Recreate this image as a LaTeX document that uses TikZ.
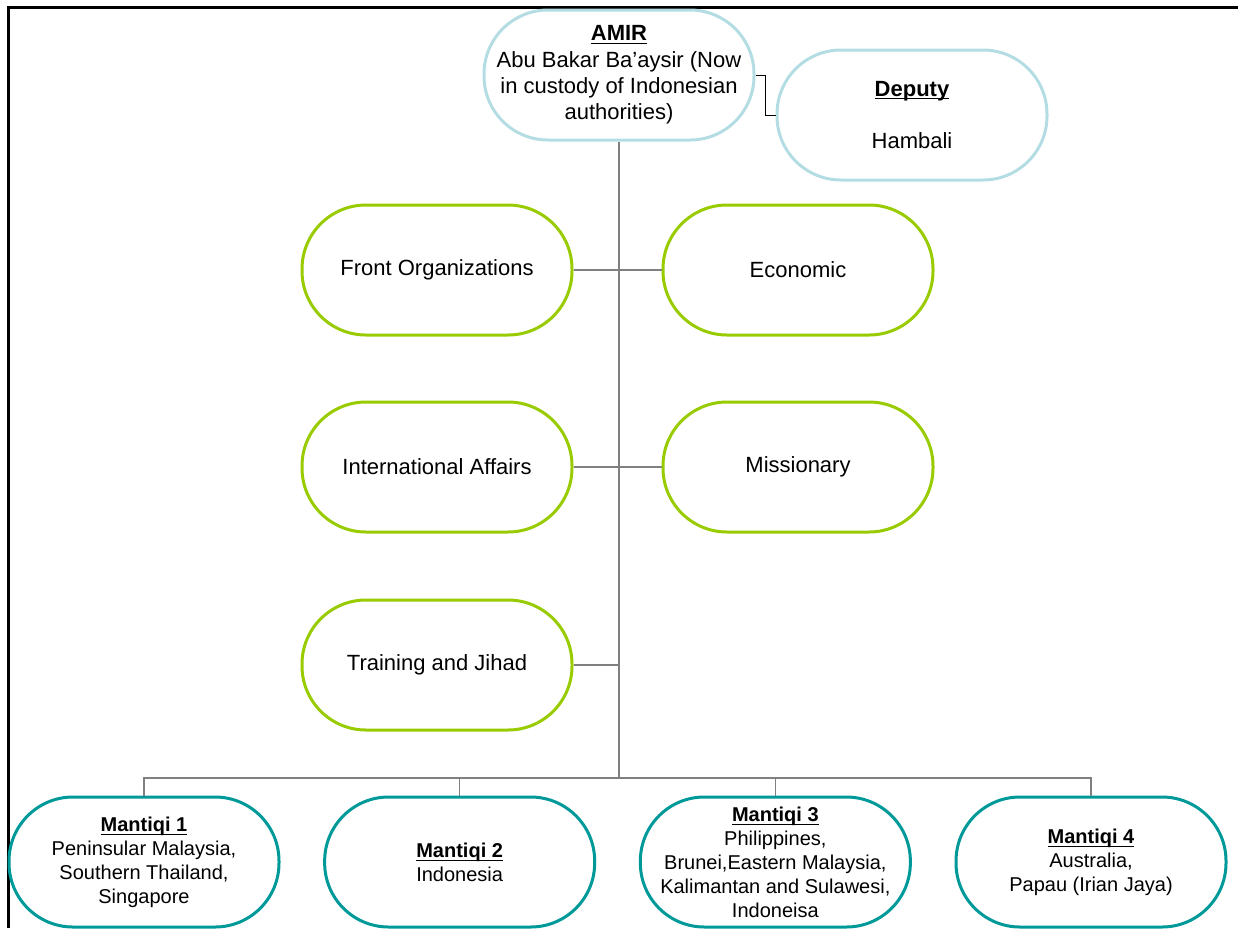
\documentclass[tikz,border=0pt]{standalone}
\usepackage{fontspec}
\setmainfont{Liberation Sans}
\usetikzlibrary{positioning}
\definecolor{amirblue}{HTML}{B4DDE3}
\definecolor{unitgreen}{HTML}{99CC00}
\definecolor{regionteal}{HTML}{009999}
\newcommand\headline[1]{\underline{\raisebox{0pt}[\height][0pt]{\textbf{#1}}}}

\begin{document}
\begin{tikzpicture}[x=0.5pt,y=-0.5pt,font=\fontsize{11}{13.2}\selectfont,
  pill/.style={rectangle,rounded corners=32pt,draw,line width=1.5pt,fill=white,
    minimum width=135pt,minimum height=65pt,align=center,inner sep=2pt},
  leader/.style={pill,draw=amirblue},
  unit/.style={pill,draw=unitgreen},
  region/.style={pill,draw=regionteal,font=\fontsize{10}{12}\selectfont},
  link/.style={draw=gray,line width=0.6pt}]
\useasboundingbox (0,0) rectangle (1238,928);
\draw[line width=1.5pt] (8,928) -- (8,7) -- (1238,7);

\node[leader] (amir) at (619,75)
  {\headline{AMIR}\\Abu Bakar Ba’aysir (Now\\in custody of Indonesian\\authorities)};
\node[leader] (deputy) at (912,115)
  {\headline{Deputy}\\[13.2pt]Hambali};
\draw[black,line width=0.5pt] (amir.east) -- ++(5pt,0) |- (deputy.west);

\coordinate (bus) at (619,778);
\draw[link] (amir.south) -- (bus);

\node[unit] (front) at (437,270) {Front Organizations};
\node[unit] (econ) at (798,270) {Economic};
\node[unit] (intl) at (437,467) {International Affairs};
\node[unit] (mission) at (798,467) {Missionary};
\node[unit] (train) at (437,665) {Training and Jihad};
\draw[link] (front.east) -- (econ.west);
\draw[link] (intl.east) -- (mission.west);
\draw[link] (train.east) -- (train.east -| bus);

\foreach \X [count=\Y] in
{{Peninsular Malaysia,\\Southern Thailand,\\Singapore},
 {Indonesia},
 {Philippines,\\Brunei,Eastern Malaysia,\\Kalimantan and Sulawesi,\\Indoneisa},
 {Australia,\\Papau (Irian Jaya)}}
  {\node[region] (M-\Y) at ({144+315.67*(\Y-1)},862)
     {\headline{Mantiqi \Y}\\\X};
  \draw[link] (M-\Y.north) |- (bus);}
\end{tikzpicture}
\end{document}
